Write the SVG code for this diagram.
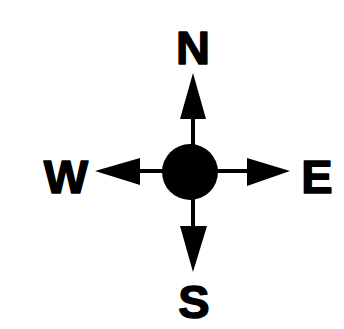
<svg xmlns="http://www.w3.org/2000/svg" width="344" height="329" viewBox="0 0 344 329">
<style>
.lbl{font-family:"Liberation Sans",Arial,sans-serif;font-weight:bold;font-size:47px;fill:#000;stroke:#000;stroke-width:1.5;stroke-linejoin:round;text-anchor:middle}
.shaft{stroke:#000;stroke-width:4;fill:none}
.head{fill:#000}
</style>
<rect width="344" height="329" fill="#fff"/>
<g id="connectors">
<line class="shaft" x1="193" y1="146" x2="193" y2="116"/>
<polygon class="head" points="193,73 180,119 206,119"/>
<line class="shaft" x1="193" y1="198" x2="193" y2="229"/>
<polygon class="head" points="193,272 180,226 207,226"/>
<line class="shaft" x1="164" y1="171" x2="137" y2="171"/>
<polygon class="head" points="95,171 140,158 140,185"/>
<line class="shaft" x1="216" y1="171" x2="250" y2="171"/>
<polygon class="head" points="290,171 247,158 247,186"/>
</g>
<g id="center"><circle cx="190" cy="172" r="28" fill="#000"/></g>
<g id="N"><text class="lbl" x="193" y="64">N</text></g>
<g id="S"><text class="lbl" x="194" y="318">S</text></g>
<g id="W"><text class="lbl" x="66" y="193">W</text></g>
<g id="E"><text class="lbl" x="317" y="193">E</text></g>
</svg>
